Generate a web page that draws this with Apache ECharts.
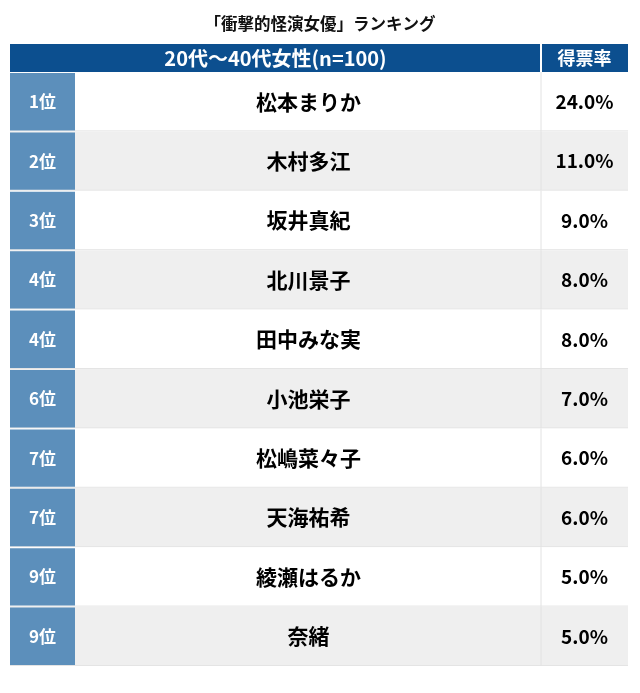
<!DOCTYPE html>
<html>
<head>
<meta charset="utf-8">
<script src="https://cdn.jsdelivr.net/npm/echarts@6/dist/echarts.min.js"></script>
<style>
  html, body { margin: 0; padding: 0; background: #fff; }
  #chart { width: 640px; height: 693px; }
</style>
</head>
<body>
<div id="chart"></div>
<script>
var titleText = '「衝撃的怪演女優」ランキング';
var headerLabel = '20代〜40代女性(n=100)';
var headerRate = '得票率';
var ranks = ['1位', '2位', '3位', '4位', '4位', '6位', '7位', '7位', '9位', '9位'];
var names = ['松本まりか', '木村多江', '坂井真紀', '北川景子', '田中みな実', '小池栄子', '松嶋菜々子', '天海祐希', '綾瀬はるか', '奈緒'];
var rates = [24.0, 11.0, 9.0, 8.0, 8.0, 7.0, 6.0, 6.0, 5.0, 5.0];

var FONT = '"Noto Sans CJK JP", "Noto Sans", sans-serif';
var GRID = { left: 10, right: 12, top: 72, bottom: 27 };
var RANK_W = 65, RATE_W = 87;

var rows = ranks.map(function (r, i) { return [i, rates[i]]; });

var chart = echarts.init(document.getElementById('chart'));

function renderRow(params, api) {
  var idx = api.value(0);
  var cs = params.coordSys;
  var cy = api.coord([0, idx])[1];
  var h = api.size([0, 1])[1];
  var top = cy - h / 2;
  var x0 = cs.x, x1 = cs.x + cs.width;
  var nameX = x0 + RANK_W + 1;
  var rateX = x1 - RATE_W;
  var fill = idx % 2 === 0 ? '#ffffff' : '#efefef';
  return {
    type: 'group',
    children: [
      { type: 'rect', shape: { x: x0, y: top, width: cs.width, height: h }, style: { fill: fill } },
      { type: 'line', shape: { x1: x0, y1: top + h - 0.5, x2: x1, y2: top + h - 0.5 }, style: { stroke: '#e4e4e4', lineWidth: 1 } },
      { type: 'rect', shape: { x: x0, y: top + 1, width: RANK_W, height: h - 2 }, style: { fill: '#5c8fbb' } },
      { type: 'line', shape: { x1: rateX, y1: top, x2: rateX, y2: top + h }, style: { stroke: '#e2e2e2', lineWidth: 1 } },
      { type: 'text', style: { x: x0 + RANK_W / 2, y: cy, text: ranks[params.dataIndex], fill: '#ffffff', font: 'bold 17px ' + FONT, align: 'center', verticalAlign: 'middle' } },
      { type: 'text', style: { x: (nameX + rateX) / 2, y: cy, text: names[params.dataIndex], fill: '#000000', font: 'bold 21px ' + FONT, align: 'center', verticalAlign: 'middle' } },
      { type: 'text', style: { x: (rateX + x1) / 2, y: cy, text: api.value(1).toFixed(1) + '%', fill: '#000000', font: 'bold 19px ' + FONT, align: 'center', verticalAlign: 'middle' } }
    ]
  };
}

chart.setOption({
  animation: false,
  backgroundColor: '#ffffff',
  title: {
    text: titleText,
    left: 'center',
    top: 10,
    textStyle: { fontFamily: FONT, fontSize: 16.5, fontWeight: 'bold', color: '#111' }
  },
  grid: GRID,
  xAxis: { type: 'value', min: 0, max: 1, show: false },
  yAxis: { type: 'category', data: ranks.map(function (r, i) { return i; }), inverse: true, show: false },
  graphic: [
    { type: 'rect', left: GRID.left, top: 44, shape: { width: 640 - GRID.left - GRID.right, height: 28 }, style: { fill: '#0c4f8f' } },
    { type: 'rect', left: 640 - GRID.right - RATE_W - 1, top: 44, shape: { width: 2, height: 28 }, style: { fill: '#ffffff' } },
    { type: 'text', x: (GRID.left + 640 - GRID.right - RATE_W) / 2, y: 58, style: { text: headerLabel, fill: '#fff', font: 'bold 20px ' + FONT, align: 'center', verticalAlign: 'middle' } },
    { type: 'text', x: 640 - GRID.right - RATE_W / 2, y: 58, style: { text: headerRate, fill: '#fff', font: 'bold 18px ' + FONT, align: 'center', verticalAlign: 'middle' } }
  ],
  series: [{
    type: 'custom',
    renderItem: renderRow,
    encode: { y: 0 },
    data: rows
  }]
});
</script>
</body>
</html>
